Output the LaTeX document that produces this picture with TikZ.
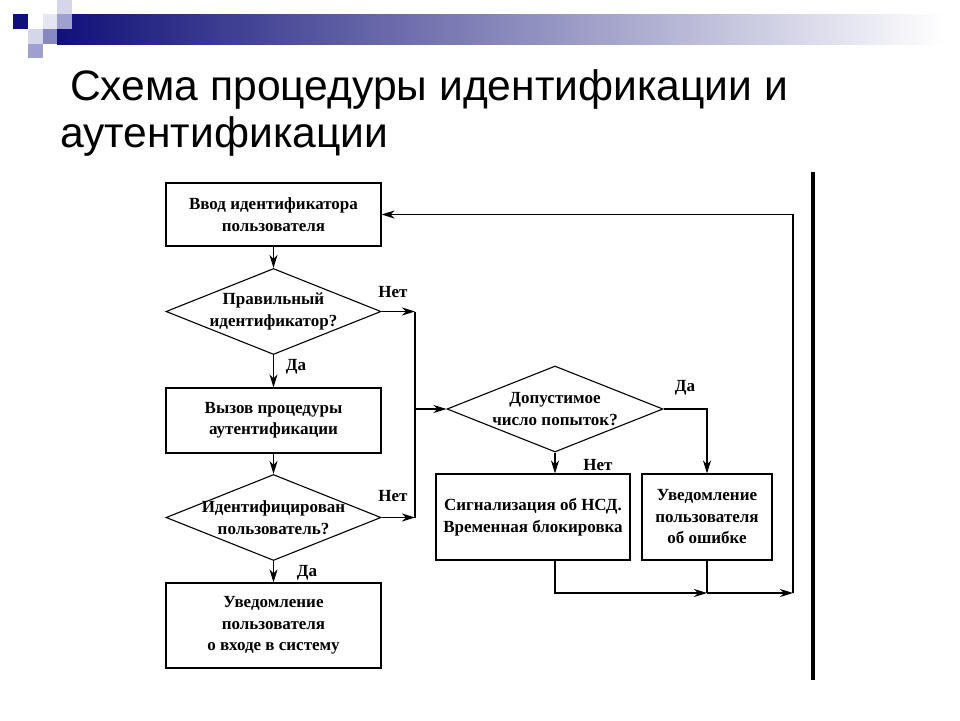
\documentclass[tikz,border=0pt]{standalone}
\usepackage{fontspec}
\setmainfont{Liberation Serif}
\setsansfont{Liberation Sans}
\usetikzlibrary{shapes.geometric,arrows.meta}

\definecolor{slidenavy}{RGB}{16,16,120}
\definecolor{sqlight}{RGB}{214,214,234}
\definecolor{sqpale}{RGB}{230,230,242}
\definecolor{sqmid}{RGB}{160,160,208}
\definecolor{sqdeep}{RGB}{136,136,196}

\tikzset{
  blockbox/.style={draw,line width=1.1pt,align=center,inner sep=0,font=\blockfont},
  decision/.style={diamond,draw,line width=1.1pt,inner sep=0,minimum width=215pt,minimum height=86pt},
  flowarrow/.style={line width=1.1pt,-{Stealth[length=13pt,width=8pt,inset=4pt]}},
  flowline/.style={line width=1.1pt},
  answer/.style={inner sep=0,font=\blockfont}
}
\providecommand{\blockfont}{\fontsize{17}{21.5}\selectfont\bfseries}
\providecommand{\titlefont}{\sffamily\fontsize{42.6}{47}\selectfont}

\begin{document}
\begin{tikzpicture}[x=1pt,y=-1pt]
    \useasboundingbox (0,0) rectangle (960,720);
    % slide decoration
    \shade[left color=slidenavy,right color=white] (57,14) rectangle (945,44);
    \fill[slidenavy] (13,14) rectangle (28,29);
    \fill[sqlight] (57,0) rectangle (72,14);
    \fill[sqpale] (43,14) rectangle (57,29);
    \fill[sqmid] (57,14) rectangle (72,29);
    \fill[sqlight] (28,29) rectangle (43,44);
    \fill[sqdeep] (43,29) rectangle (57,44);
    \fill[sqmid] (28,44) rectangle (43,58);
    \node[anchor=base west,inner sep=0,font=\titlefont](title1) at (70,100) {Схема процедуры идентификации и};
    \node[anchor=base west,inner sep=0,font=\titlefont](title2) at (60,147) {аутентификации};
    % left column
    \node[blockbox,minimum width=215pt,minimum height=63pt](input) at (273.5,214.5) {Ввод идентификатора\\пользователя};
    \node[decision,label={[align=center,font=\blockfont]center:Правильный\\идентификатор?}](checkid) at (273.5,311.5) {};
    \node[blockbox,minimum width=215pt,minimum height=65pt](callauth) at (273.5,420.5) {Вызов процедуры\\аутентификации};
    \node[decision,label={[align=center,font=\blockfont]center:Идентифицирован\\пользователь?}](checkauth) at (273.5,517.5) {};
    \node[blockbox,minimum width=215pt,minimum height=85pt](welcome) at (273.5,625.5) {Уведомление\\ пользователя\\о входе в систему};
    % right part
    \node[decision,minimum width=216pt,label={[align=center,font=\blockfont]center:Допустимое\\число попыток?}](attempts) at (555,409) {};
    \node[blockbox,minimum width=194pt,minimum height=86pt](alarm) at (533,517) {Сигнализация об НСД.\\Временная блокировка};
    \node[blockbox,minimum width=130pt,minimum height=86pt](errmsg) at (707,517) {Уведомление\\пользователя\\об ошибке};
    \coordinate (nojoin) at (415,311.5);
    \coordinate (nojoin2) at (415,517.5);
    \coordinate (backjoin) at (707,593);
    \coordinate (backloop) at (793,593);
    % connectors
    \draw[flowarrow] (input) -- (checkid.north);
    \draw[flowarrow] (checkid.south) -- (callauth.north);
    \draw[flowarrow] (callauth) -- (checkauth.north);
    \draw[flowarrow] (checkauth.south) -- (welcome.north);
    \draw[flowarrow] (checkid.east) -- (nojoin);
    \draw[flowarrow] (checkauth.east) -- (nojoin2);
    \draw[flowline] (nojoin) -- (nojoin2);
    \draw[flowarrow] (nojoin |- attempts.west) -- (attempts.west);
    \draw[flowarrow] (attempts.south) -- (attempts.south |- alarm.north);
    \draw[flowarrow] (attempts.east) -| (errmsg.north);
    \draw[flowarrow] (alarm.south -| attempts.south) |- (backjoin);
    \draw[flowline] (errmsg.south) -- (backjoin);
    \draw[flowarrow] (backjoin) -- (backloop);
    \draw[flowarrow] (backloop) |- (input.east);
    % answers
    \node[answer](no1) at (393,292) {Нет};
    \node[answer](yes1) at (296,367) {Да};
    \node[answer](no2) at (393,496) {Нет};
    \node[answer](yes2) at (307,573) {Да};
    \node[answer](yes3) at (685,388) {Да};
    \node[answer](no3) at (598,465) {Нет};
    \draw[line width=4pt] (813,172) -- (813,680);
\end{tikzpicture}
\end{document}
